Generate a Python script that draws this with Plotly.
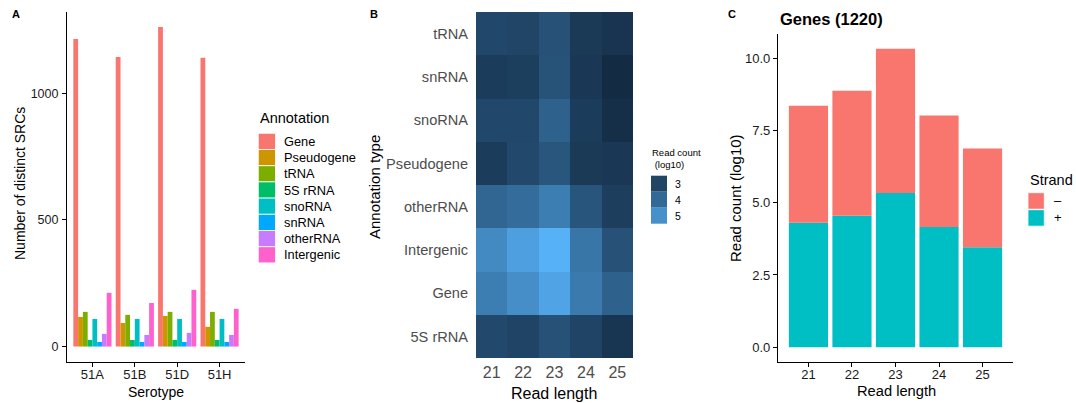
import plotly.graph_objects as go

# ---------------- data ----------------
serotypes = ["51A", "51B", "51D", "51H"]
annotation_types = ["Gene", "Pseudogene", "tRNA", "5S rRNA", "snoRNA", "snRNA", "otherRNA", "Intergenic"]
gene = [1214, 1143, 1262, 1140]
pseudogene = [117, 93, 121, 78]
trna = [137, 125, 137, 137]
rrna_5s = [26, 26, 26, 26]
snorna = [109, 109, 109, 109]
snrna = [18, 18, 18, 18]
otherrna = [50, 46, 54, 46]
intergenic = [212, 172, 224, 149]

read_lengths = ["21", "22", "23", "24", "25"]
heat_rows = ["5S rRNA", "Gene", "Intergenic", "otherRNA", "Pseudogene", "snoRNA", "snRNA", "tRNA"]
heat_5s = [3.14, 3.00, 3.35, 3.00, 2.57]
heat_gene = [4.52, 4.95, 5.48, 4.42, 3.81]
heat_intergenic = [4.84, 5.37, 5.80, 4.34, 3.35]
heat_other = [3.92, 4.10, 4.52, 3.46, 2.82]
heat_pseudo = [2.75, 3.14, 3.49, 2.68, 2.64]
heat_sno = [3.10, 3.10, 3.81, 2.75, 2.36]
heat_sn = [2.75, 2.85, 3.39, 2.64, 2.25]
heat_trna = [3.10, 3.03, 3.35, 2.68, 2.53]
heat_legend_breaks = [3, 4, 5]

strand_plus = [4.30, 4.55, 5.33, 4.16, 3.46]
strand_minus = [4.05, 4.32, 4.99, 3.85, 3.41]
strands = ["\u2013", "+"]

# ---------------- styling helpers ----------------
W, H = 1076, 403
FONT = "Liberation Sans, Arial, sans-serif"
HUE8 = ["#F8766D", "#CD9600", "#7CAE00", "#00BE67", "#00BFC4", "#00A9FF", "#C77CFF", "#FF61CC"]
HUE2 = ["#F8766D", "#00BFC4"]


def X(p):
    return p / W


def Y(p):
    return 1 - p / H


# Lab interpolation (like ggplot's seq_gradient)
def _hex2rgb(h):
    h = h.lstrip("#")
    return [int(h[i:i + 2], 16) / 255 for i in (0, 2, 4)]


def _lin(c):
    return c / 12.92 if c <= 0.04045 else ((c + 0.055) / 1.055) ** 2.4


def _delin(c):
    c = max(0.0, min(1.0, c))
    return 12.92 * c if c <= 0.0031308 else 1.055 * c ** (1 / 2.4) - 0.055


WP = (0.95047, 1.0, 1.08883)


def _f(t):
    return t ** (1 / 3) if t > 216 / 24389 else (24389 / 27 * t + 16) / 116


def _finv(t):
    return t ** 3 if t ** 3 > 216 / 24389 else (116 * t - 16) / (24389 / 27)


def hex2lab(h):
    r, g, b = [_lin(c) for c in _hex2rgb(h)]
    x = 0.4124 * r + 0.3576 * g + 0.1805 * b
    y = 0.2126 * r + 0.7152 * g + 0.0722 * b
    z = 0.0193 * r + 0.1192 * g + 0.9505 * b
    fx, fy, fz = _f(x / WP[0]), _f(y / WP[1]), _f(z / WP[2])
    return (116 * fy - 16, 500 * (fx - fy), 200 * (fy - fz))


def lab2hex(L, a, b):
    fy = (L + 16) / 116
    fx = fy + a / 500
    fz = fy - b / 200
    x, y, z = _finv(fx) * WP[0], _finv(fy) * WP[1], _finv(fz) * WP[2]
    r = 3.2406 * x - 1.5372 * y - 0.4986 * z
    g = -0.9689 * x + 1.8758 * y + 0.0415 * z
    bb = 0.0557 * x - 0.2040 * y + 1.0570 * z
    return "#" + "".join("%02x" % round(_delin(c) * 255) for c in (r, g, bb))


LOW, HIGH = hex2lab("#132B43"), hex2lab("#56B1F7")


def ramp(t):
    return lab2hex(*[LOW[i] + (HIGH[i] - LOW[i]) * t for i in range(3)])


colorscale = [[i / 20, ramp(i / 20)] for i in range(21)]

z = [heat_5s, heat_gene, heat_intergenic, heat_other, heat_pseudo, heat_sno, heat_sn, heat_trna]
zmin = min(min(r) for r in z)
zmax = max(max(r) for r in z)

fig = go.Figure()

# ---------------- Panel A ----------------
seriesA = [gene, pseudogene, trna, rrna_5s, snorna, snrna, otherrna, intergenic]
for name, vals, col in zip(annotation_types, seriesA, HUE8):
    fig.add_trace(go.Bar(x=serotypes, y=vals, name=name, marker=dict(color=col, line=dict(width=0)),
                         xaxis="x", yaxis="y", showlegend=False))

# ---------------- Panel B ----------------
fig.add_trace(go.Heatmap(x=read_lengths, y=heat_rows, z=z, colorscale=colorscale, zmin=zmin, zmax=zmax,
                         showscale=False, xaxis="x2", yaxis="y2"))

# ---------------- Panel C ----------------
fig.add_trace(go.Bar(x=read_lengths, y=strand_plus, name="+", marker=dict(color=HUE2[1], line=dict(width=0)),
                     offsetgroup="c", xaxis="x3", yaxis="y3", showlegend=False))
fig.add_trace(go.Bar(x=read_lengths, y=strand_minus, base=strand_plus, name="\u2013",
                     marker=dict(color=HUE2[0], line=dict(width=0)),
                     offsetgroup="c", xaxis="x3", yaxis="y3", showlegend=False))

axis_common = dict(showgrid=False, zeroline=False, fixedrange=True)
black_tick = dict(family=FONT, size=13, color="#1a1a1a")

fig.update_layout(
    width=W, height=H, margin=dict(l=0, r=0, t=0, b=0),
    paper_bgcolor="white", plot_bgcolor="white",
    barmode="group", bargap=0.1, bargroupgap=0,
    font=dict(family=FONT),
    xaxis=dict(domain=[X(67), X(245)], anchor="y", type="category", range=[-0.6, 3.6],
               showline=True, linecolor="black", linewidth=1.1, ticks="outside", ticklen=4,
               tickcolor="black", tickwidth=1.1, tickfont=black_tick, ticklabelstandoff=-4,
               **axis_common),
    yaxis=dict(domain=[Y(362), Y(12)], anchor="x", range=[-61, 1321], tickvals=[0, 500, 1000],
               showline=True, linecolor="black", linewidth=1.1, ticks="outside", ticklen=4,
               tickcolor="black", tickwidth=1.1, tickfont=dict(family=FONT, size=12.5, color="#1a1a1a"),
               ticklabelstandoff=1, **axis_common),
    xaxis2=dict(domain=[X(476), X(633)], anchor="y2", type="category", showline=False,
                ticks="outside", ticklen=2, tickcolor="rgba(0,0,0,0)", ticklabelstandoff=-2,
                tickfont=dict(family=FONT, size=16, color="#4D4D4D"), **axis_common),
    yaxis2=dict(domain=[Y(358), Y(12)], anchor="x2", type="category", showline=False,
                ticks="outside", ticklen=4, tickcolor="rgba(0,0,0,0)",
                tickfont=dict(family=FONT, size=14.6, color="#4D4D4D"), **axis_common),
    xaxis3=dict(domain=[X(778), X(1013)], anchor="y3", type="category", range=[-0.7, 4.7],
                showline=True, linecolor="black", linewidth=1.1, ticks="outside", ticklen=4,
                tickcolor="black", tickwidth=1.1, tickfont=black_tick, ticklabelstandoff=-4,
                **axis_common),
    yaxis3=dict(domain=[Y(362), Y(34)], anchor="x3", range=[-0.51, 10.83], tickvals=[0, 2.5, 5, 7.5, 10],
                tickformat=".1f", showline=True, linecolor="black", linewidth=1.1, ticks="outside",
                ticklen=4, tickcolor="black", tickwidth=1.1, tickfont=black_tick, **axis_common),
)

ann = []
shapes = []


def text(x, y, s, size, color="#1a1a1a", bold=False, angle=0, xanchor="center", yanchor="middle"):
    ann.append(dict(x=X(x), y=Y(y), xref="paper", yref="paper", text=("<b>%s</b>" % s) if bold else s,
                    showarrow=False, textangle=angle, xanchor=xanchor, yanchor=yanchor,
                    font=dict(family=FONT, size=size, color=color)))


# panel tags
text(10, 14, "A", 11, "black", True, xanchor="left")
text(368, 14, "B", 11, "black", True, xanchor="left")
text(726, 14, "C", 11, "black", True, xanchor="left")

# axis titles
text(20, 184, "Number of distinct SRCs", 14, "black", angle=-90)
text(156, 392, "Serotype", 14, "black")
text(374, 187, "Annotation type", 15, "black", angle=-90)
text(554, 393, "Read length", 16, "black")
text(735, 198, "Read count (log10)", 15, "black", angle=-90)
text(896, 391, "Read length", 14.7, "black")
text(778, 19, "Genes (1220)", 16.5, "black", True, xanchor="left")

# legend A
text(258, 118, "Annotation", 14.5, "black", xanchor="left")
key_top = 133.3
key_h = 16.2
for i, (name, col) in enumerate(zip(annotation_types, HUE8)):
    y0 = key_top + i * key_h
    shapes.append(dict(type="rect", xref="paper", yref="paper", x0=X(258.3), x1=X(275.5),
                       y0=Y(y0 + key_h), y1=Y(y0), fillcolor=col, line=dict(color="white", width=0.8)))
    text(282, y0 + key_h / 2, name, 12.8, "black", xanchor="left")

# legend B
text(650, 152, "Read count", 9.5, "black", xanchor="left")
text(650, 164.5, " (log10)", 9.5, "black", xanchor="left")
for i, v in enumerate(heat_legend_breaks):
    y0 = 175.7 + i * 16
    col = ramp((v - zmin) / (zmax - zmin))
    shapes.append(dict(type="rect", xref="paper", yref="paper", x0=X(651), x1=X(667),
                       y0=Y(y0 + 16), y1=Y(y0), fillcolor=col, line=dict(width=0)))
    text(672.5, y0 + 8, str(v), 10.5, "black", xanchor="left")

# legend C
text(1028, 180, "Strand", 14.5, "black", xanchor="left")
for i, (name, col) in enumerate(zip(strands, HUE2)):
    y0 = 192.7 + i * 17
    shapes.append(dict(type="rect", xref="paper", yref="paper", x0=X(1028), x1=X(1044.3),
                       y0=Y(y0 + 16.5), y1=Y(y0), fillcolor=col, line=dict(color="white", width=0.8)))
    text(1051.5, y0 + 8.2, name, 13, "black", xanchor="left")

fig.update_layout(annotations=ann, shapes=shapes)
fig.write_html("out.html")
